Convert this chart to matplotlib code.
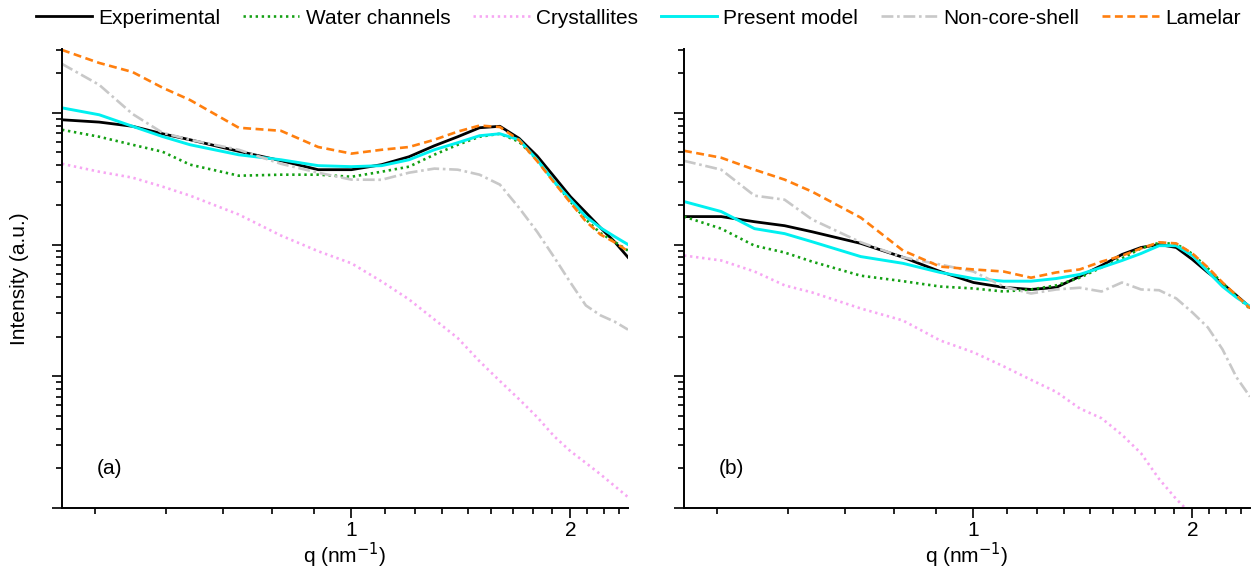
import matplotlib
matplotlib.use('Agg')
import matplotlib.pyplot as plt
from matplotlib.ticker import FixedLocator, FuncFormatter, LogLocator, NullFormatter
import numpy as np

plt.rcParams['font.family'] = ['Liberation Sans', 'DejaVu Sans']

# ---------------- data ----------------
q = [0.4, 0.45, 0.5, 0.55, 0.6, 0.7, 0.8, 0.9, 1.0, 1.1, 1.2, 1.3, 1.4, 1.5,
     1.6, 1.7, 1.8, 1.9, 2.0, 2.1, 2.2, 2.3, 2.4]

# panel (a)
exp_a = [0.885, 0.85, 0.79, 0.693, 0.624, 0.51, 0.433, 0.37, 0.37, 0.404, 0.464, 0.562,
         0.658, 0.77, 0.79, 0.64, 0.47, 0.327, 0.231, 0.175, 0.134, 0.105, 0.08]
water_a = [0.743, 0.658, 0.572, 0.506, 0.404, 0.333, 0.339, 0.339, 0.327, 0.357, 0.39, 0.481,
           0.572, 0.658, 0.693, 0.603, 0.44, 0.30, 0.212, 0.155, 0.122, 0.105, 0.09]
cryst_a = [0.41, 0.357, 0.322, 0.275, 0.235, 0.169, 0.117, 0.089, 0.072, 0.0525, 0.0383, 0.027,
           0.0195, 0.013, 0.0092, 0.0067, 0.0049, 0.0035, 0.0027, 0.0022, 0.0018, 0.00147, 0.00121]
model_a = [1.09, 0.966, 0.79, 0.66, 0.572, 0.48, 0.44, 0.397, 0.39, 0.397, 0.44, 0.524,
           0.593, 0.67, 0.693, 0.624, 0.44, 0.30, 0.219, 0.163, 0.134, 0.115, 0.10]
noncs_a = [2.35, 1.63, 0.98, 0.705, 0.624, 0.524, 0.41, 0.351, 0.311, 0.31, 0.351, 0.377,
           0.37, 0.339, 0.285, 0.19, 0.125, 0.08, 0.0515, 0.0345, 0.029, 0.026, 0.0226]
lam_a = [3.0, 2.39, 2.04, 1.55, 1.25, 0.77, 0.73, 0.55, 0.49, 0.524, 0.55, 0.624,
         0.72, 0.80, 0.78, 0.62, 0.43, 0.295, 0.208, 0.15, 0.119, 0.104, 0.089]

# panel (b)
exp_b = [0.163, 0.163, 0.149, 0.139, 0.125, 0.102, 0.08, 0.0624, 0.0515, 0.0473, 0.0456, 0.0473,
         0.0573, 0.0693, 0.084, 0.095, 0.10, 0.095, 0.077, 0.0614, 0.0506, 0.041, 0.0334]
water_b = [0.163, 0.132, 0.098, 0.087, 0.0742, 0.058, 0.0527, 0.048, 0.0464, 0.044, 0.0456, 0.049,
           0.056, 0.067, 0.0785, 0.0935, 0.103, 0.101, 0.085, 0.066, 0.051, 0.0405, 0.0325]
cryst_b = [0.0825, 0.0757, 0.0624, 0.049, 0.0433, 0.0327, 0.0265, 0.0187, 0.0152, 0.0119, 0.0094,
           0.0076, 0.0057, 0.0048, 0.0036, 0.0026, 0.00166, 0.00117, 0.00088, np.nan, np.nan,
           np.nan, np.nan]
model_b = [0.212, 0.178, 0.132, 0.121, 0.105, 0.081, 0.072, 0.0614, 0.0552, 0.0527, 0.0527, 0.0552,
           0.0593, 0.067, 0.0756, 0.0855, 0.098, 0.098, 0.0825, 0.0624, 0.048, 0.0396, 0.0339]
noncs_b = [0.432, 0.37, 0.235, 0.219, 0.155, 0.104, 0.08, 0.0705, 0.0624, 0.048, 0.0425, 0.0456,
           0.047, 0.044, 0.0515, 0.0456, 0.045, 0.039, 0.0305, 0.0235, 0.016, 0.0098, 0.007]
lam_b = [0.515, 0.456, 0.37, 0.311, 0.252, 0.16, 0.09, 0.068, 0.0647, 0.0624, 0.056, 0.0614,
         0.0647, 0.0742, 0.0822, 0.0935, 0.104, 0.102, 0.0855, 0.067, 0.0515, 0.041, 0.0328]

labels = ['Experimental', 'Water channels', 'Crystallites', 'Present model',
          'Non-core-shell', 'Lamelar']
x_major = [1, 2]
x_minor = [k / 9 for k in range(4, 22) if k not in (9, 18)]

# ---------------- styles ----------------
styles = [
    dict(color='black', lw=2.0, ls='-'),
    dict(color='#14a014', lw=1.9, ls=(0, (0.9, 1.4))),
    dict(color='#f7a6f3', lw=1.9, ls=(0, (0.9, 1.4))),
    dict(color='#00f0f0', lw=2.1, ls='-'),
    dict(color='#c8c8c8', lw=1.9, ls=(0, (4.5, 1.4, 1.0, 1.4))),
    dict(color='#ff7f0e', lw=1.9, ls=(0, (3.0, 1.7))),
]

W, H = 1255, 575
fig = plt.figure(figsize=(W / 100, H / 100), dpi=100)
axa = fig.add_axes([62 / W, 1 - 508 / H, 566 / W, 459 / H])
axb = fig.add_axes([684 / W, 1 - 508 / H, 566 / W, 459 / H])

handles = []
for ax, series, tag in [(axa, [exp_a, water_a, cryst_a, model_a, noncs_a, lam_a], '(a)'),
                        (axb, [exp_b, water_b, cryst_b, model_b, noncs_b, lam_b], '(b)')]:
    hs = []
    for s, st, lab in zip(series, styles, labels):
        h, = ax.plot(q, s, label=lab, **st)
        hs.append(h)
    handles = hs
    ax.set_xscale('log')
    ax.set_yscale('log')
    ax.set_xlim(0.4, 2.4)
    ax.set_ylim(1e-3, 3.05)
    ax.xaxis.set_major_locator(FixedLocator(x_major))
    ax.xaxis.set_major_formatter(FuncFormatter(lambda v, p: '%d' % round(v)))
    ax.xaxis.set_minor_locator(FixedLocator(x_minor))
    ax.xaxis.set_minor_formatter(NullFormatter())
    ax.yaxis.set_major_locator(LogLocator(base=10, numticks=10))
    ax.yaxis.set_minor_locator(LogLocator(base=10, subs=np.arange(2, 10), numticks=20))
    ax.yaxis.set_minor_formatter(NullFormatter())
    ax.tick_params(axis='both', which='major', direction='out', length=7, width=1.2,
                   labelsize=15, pad=2)
    ax.tick_params(axis='both', which='minor', direction='out', length=4, width=1.2)
    ax.tick_params(axis='y', labelleft=False)
    for sp in ['top', 'right']:
        ax.spines[sp].set_visible(False)
    for sp in ['left', 'bottom']:
        ax.spines[sp].set_linewidth(1.4)
    ax.set_xlabel('q (nm$^{-1}$)', fontsize=15, labelpad=1)
    ax.text(0.062, 0.087, tag, transform=ax.transAxes, fontsize=15, va='center', ha='left')

axa.set_ylabel('Intensity (a.u.)', fontsize=15, labelpad=16)

fig.legend(handles, labels, loc='center', bbox_to_anchor=(638 / W, 1 - 18 / H), ncol=6,
           frameon=False, fontsize=15, handlelength=2.7, handletextpad=0.3,
           columnspacing=1.1, borderaxespad=0, borderpad=0)

fig.savefig('out.png', dpi=100)
